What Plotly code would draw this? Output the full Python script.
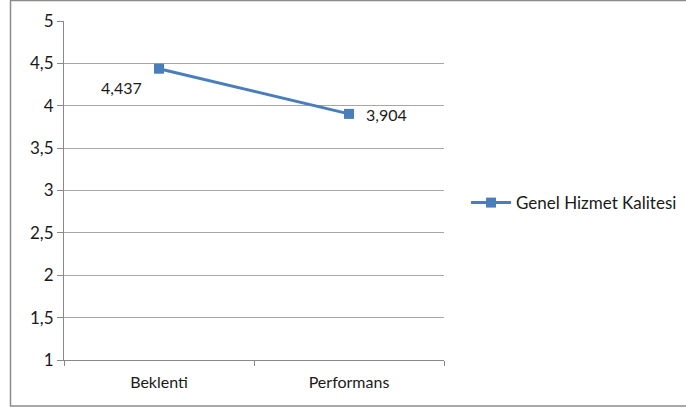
import plotly.graph_objects as go

categories = ["Beklenti", "Performans"]
values = [4.437, 3.904]
series_name = "Genel Hizmet Kalitesi"
value_labels = ["4,437", "3,904"]

blue = "#4A7EBB"
grey = "#898989"
font = dict(family="Lato, 'Open Sans', sans-serif", size=16, color="#1a1a1a")
big_font = dict(font, size=17)

fig = go.Figure()
fig.add_trace(go.Scatter(
    x=categories, y=values, name=series_name,
    mode="lines+markers",
    line=dict(color=blue, width=3),
    marker=dict(symbol="square", size=10, color=blue),
))

# value labels next to each point
offsets = [(-38, -19), (37, -1)]
for cat, val, lab, (dx, dy) in zip(categories, values, value_labels, offsets):
    fig.add_annotation(x=cat, y=val, text=lab, showarrow=False,
                       xshift=dx, yshift=dy, font=font)

fig.update_layout(
    width=686, height=414,
    margin=dict(l=64, r=242, t=21, b=54, autoexpand=False),
    paper_bgcolor="white", plot_bgcolor="white",
    font=font,
    separators=",.",
    showlegend=True,
    legend=dict(x=1.058, y=0.463, xanchor="left", yanchor="middle",
                font=big_font, bgcolor="rgba(0,0,0,0)", itemwidth=40),
    xaxis=dict(type="category", range=[-0.5, 1.5], showgrid=False,
               showline=True, linecolor=grey, linewidth=1,
               ticks="outside", ticklen=5, tickcolor=grey,
               ticklabelstandoff=8,
               tickson="boundaries", fixedrange=True),
    yaxis=dict(range=[1, 5], dtick=0.5, tick0=1, showgrid=True,
               gridcolor="#a6a6a6", gridwidth=1,
               showline=True, linecolor=grey, linewidth=1,
               ticks="outside", ticklen=6, tickcolor=grey,
               tickfont=big_font,
               zeroline=False, fixedrange=True),
)

# outer chart frame
fig.add_shape(type="rect", xref="paper", yref="paper",
              x0=(10.5 - 64) / 380, x1=(690 - 64) / 380,
              y0=(360 - 406) / 339, y1=(360 - 0.5) / 339,
              line=dict(color="#8c8c8c", width=1.5), layer="below")

fig.write_html("out.html")
